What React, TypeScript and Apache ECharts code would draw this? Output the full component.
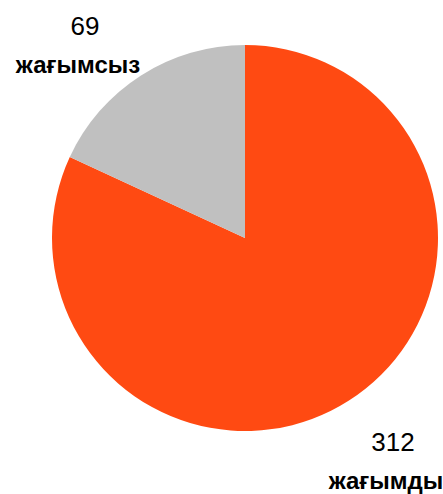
import React, { useEffect, useRef } from "react";
import * as echarts from "echarts";

const categories = ["жағымды", "жағымсыз"];
const values = [312, 69];
const colors = ["#FF4A12", "#C0C0C0"];
const labelCenters = [
  [386, 461],
  [78, 45],
];

export default function App() {
  const ref = useRef<HTMLDivElement>(null);
  useEffect(() => {
    const chart = echarts.init(ref.current!, null, { renderer: "svg" });
    chart.setOption({
      animation: false,
      series: [
        {
          type: "pie",
          center: [245, 238],
          radius: 193,
          startAngle: 90,
          clockwise: true,
          data: categories.map((c, i) => ({
            name: c,
            value: values[i],
            itemStyle: { color: colors[i] },
          })),
          itemStyle: { borderWidth: 0 },
          emphasis: { disabled: true },
          labelLine: { show: false },
          label: {
            show: true,
            position: "outside",
            overflow: "none",
            width: 300,
            formatter: "{v|{c}}\n{n|{b}}",
            rich: {
              v: {
                fontFamily: "Liberation Sans",
                fontSize: 26,
                color: "#000",
                lineHeight: 39,
                padding: [0, 0, 0, 14],
              },
              n: {
                fontFamily: "Liberation Sans",
                fontSize: 24,
                fontWeight: "bold",
                color: "#000",
                lineHeight: 39,
              },
            },
          },
          labelLayout: (p: any) => ({
            x: labelCenters[p.dataIndex][0],
            y: labelCenters[p.dataIndex][1],
            align: "center",
            verticalAlign: "middle",
          }),
        },
      ],
    });
    return () => chart.dispose();
  }, []);
  return (
    <div
      ref={ref}
      style={{ position: "absolute", left: 0, top: 0, width: 443, height: 494 }}
    />
  );
}
